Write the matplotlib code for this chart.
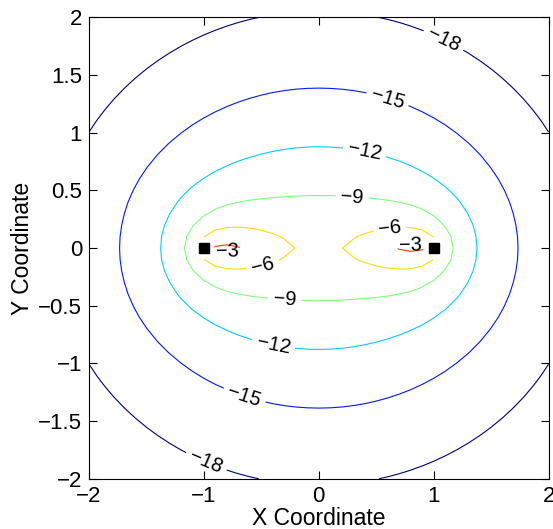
import numpy as np
import matplotlib
matplotlib.use("Agg")
import matplotlib.pyplot as plt
from matplotlib.colors import Normalize
from matplotlib.ticker import FuncFormatter

# contour levels and where their labels sit
levels = [-18, -15, -12, -9, -6, -3]
label_spots = [(1.09, 1.81), (-1.0, -1.9), (0.6, 1.3), (-0.66, -1.32),
               (0.4, 0.84), (-0.4, -0.86), (0.29, 0.45), (-0.3, -0.46),
               (0.62, 0.15), (-0.49, -0.14), (0.8, 0.05), (-0.8, -0.05)]

# the two marked points
marker_x = [-1, 1]
marker_y = [0, 0]

# field: a charged segment between the markers
# (density |s|^p + q, softened by h) plus a broad central term,
# level = k * log10(V) + c
seg_p, seg_q, seg_h = 1.67, 0.015, 0.076
mid_m, mid_h = 0.53, 0.553
gain_k, gain_c = 20.31, -13.59

grid_x = np.arange(-2, 2.001, 0.1)
grid_y = np.arange(-2, 2.001, 0.1)

s = np.linspace(marker_x[0], marker_x[1], 801)
ds = s[1] - s[0]
X, Y = np.meshgrid(grid_x, grid_y)
lam = np.abs(s) ** seg_p + seg_q
V = np.sum(lam / np.sqrt((X[..., None] - s) ** 2 + Y[..., None] ** 2 + seg_h ** 2), axis=-1) * ds
V = V + mid_m / np.sqrt(X ** 2 + Y ** 2 + mid_h ** 2)
Z = gain_k * np.log10(V) + gain_c

# no value at the marked points themselves
hole = np.zeros_like(Z, dtype=bool)
for mx, my in zip(marker_x, marker_y):
    hole |= (np.abs(X - mx) < 1e-9) & (np.abs(Y - my) < 1e-9)
Z = np.ma.masked_where(hole, Z)

plt.rcParams["font.family"] = ["Liberation Sans", "DejaVu Sans"]
fig = plt.figure(figsize=(5.53, 5.29), dpi=100)
ax = fig.add_axes([0.161, 0.095, 0.831, 0.872])

cs = ax.contour(X, Y, Z, levels=levels, cmap="jet",
                norm=Normalize(-17.6, -0.4), linewidths=0.8)
ax.clabel(cs, manual=label_spots, inline=True, fontsize=14.5, colors="k",
          fmt=lambda v: ("%d" % round(v)).replace("-", "\u2212"))

ax.plot(marker_x, marker_y, "ks", ms=6.5)

ax.set_xlim(-2, 2)
ax.set_ylim(-2, 2)
ax.set_xticks([-2, -1, 0, 1, 2])
ax.set_yticks(np.arange(-2, 2.01, 0.5))
fmt = FuncFormatter(lambda v, pos: ("%g" % v).replace("-", "\u2212"))
ax.xaxis.set_major_formatter(fmt)
ax.yaxis.set_major_formatter(fmt)
ax.tick_params(direction="in", top=True, right=True, length=6, labelsize=16, pad=5)
ax.set_xlabel("X Coordinate", fontsize=16.5, labelpad=0)
ax.set_ylabel("Y Coordinate", fontsize=16.5, labelpad=3)

fig.savefig("out.png")
